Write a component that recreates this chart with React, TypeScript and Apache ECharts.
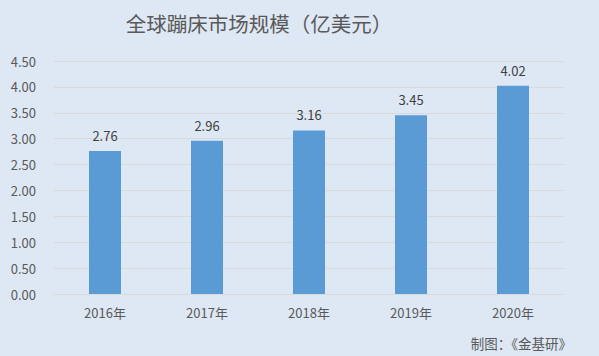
import React, { useEffect, useRef } from "react";
import * as echarts from "echarts";

const categories = ["2016年", "2017年", "2018年", "2019年", "2020年"];
const values = [2.76, 2.96, 3.16, 3.45, 4.02];
const titleText = "全球蹦床市场规模（亿美元）";
const sourceText = "制图：《金基研》";

export default function App() {
  const ref = useRef<HTMLDivElement>(null);
  useEffect(() => {
    const chart = echarts.init(ref.current!, null, { renderer: "svg" });
    const font = "'Microsoft YaHei', 'Noto Sans CJK SC', 'Noto Sans', sans-serif";
    chart.setOption({
      animation: false,
      backgroundColor: "#dee8f4",
      textStyle: { fontFamily: font },
      title: {
        text: titleText,
        left: 254,
        textAlign: "center",
        top: 8,
        textStyle: { fontSize: 20.5, fontWeight: "normal", color: "#595959", fontFamily: font },
      },
      graphic: [
        {
          type: "text",
          right: 27,
          top: 336,
          style: { text: sourceText, fontSize: 13.5, fill: "#595959", fontFamily: font },
        },
      ],
      grid: { left: 54, right: 35, top: 61, bottom: 62, containLabel: false },
      xAxis: {
        type: "category",
        data: categories,
        axisLine: { lineStyle: { color: "#d9d9d9" } },
        axisTick: { show: false },
        axisLabel: { color: "#595959", fontSize: 13, margin: 12, fontFamily: font },
      },
      yAxis: {
        type: "value",
        min: 0,
        max: 4.5,
        interval: 0.5,
        axisLine: { show: false },
        axisTick: { show: false },
        splitLine: { lineStyle: { color: "#d9d9d9" } },
        axisLabel: {
          color: "#595959",
          fontSize: 13,
          margin: 18,
          fontFamily: font,
          formatter: (v: number) => v.toFixed(2),
        },
      },
      series: [
        {
          type: "bar",
          data: values,
          barWidth: 32,
          itemStyle: { color: "#5b9bd5" },
          label: {
            show: true,
            position: "top",
            distance: 9,
            color: "#404040",
            fontSize: 13,
            fontFamily: font,
            formatter: (p: any) => p.value.toFixed(2),
          },
        },
      ],
    });
    return () => chart.dispose();
  }, []);
  return (
    <div
      ref={ref}
      style={{ position: "fixed", left: 0, top: 0, width: 599, height: 356 }}
    />
  );
}
